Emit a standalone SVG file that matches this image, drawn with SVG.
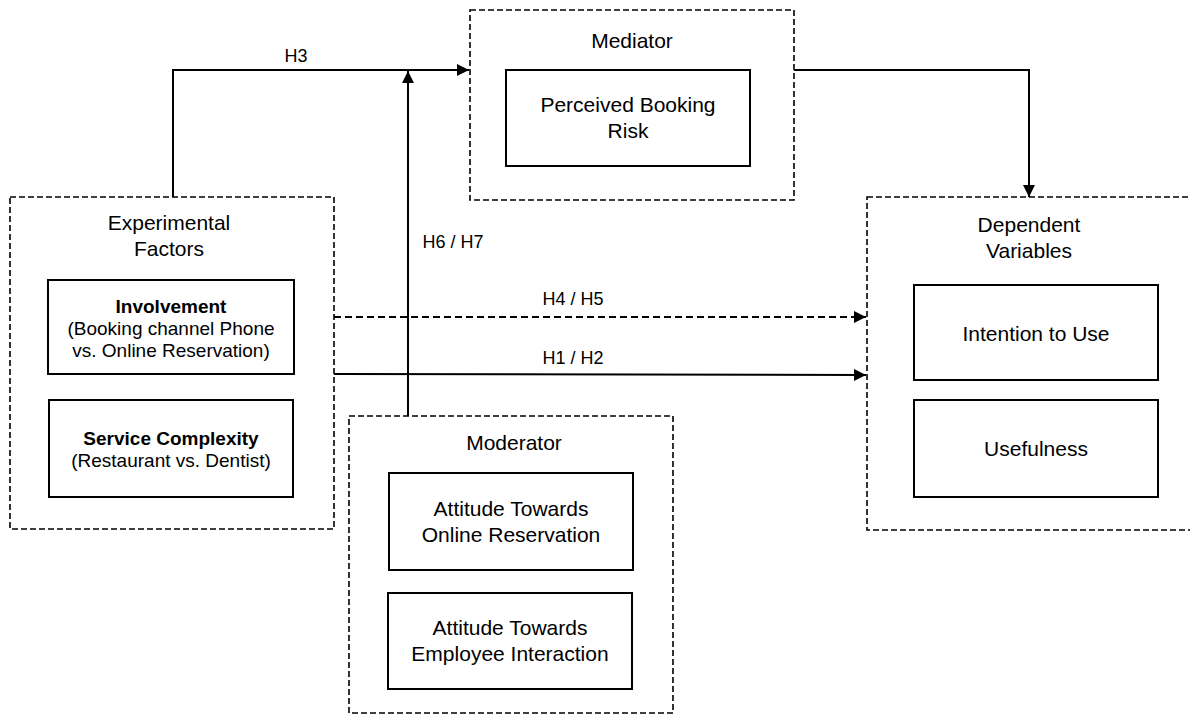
<svg xmlns="http://www.w3.org/2000/svg" width="1190" height="715" viewBox="0 0 1190 715">
  <style>
    text { font-family: "Liberation Sans", Arial, sans-serif; fill: #000; text-anchor: middle; }
    .title { font-size: 21px; }
    .main { font-size: 21px; }
    .sub { font-size: 19px; }
    .bold { font-size: 19px; font-weight: bold; }
    .lbl { font-size: 18px; }
    .group { fill: none; stroke: #000; stroke-width: 1.6; stroke-dasharray: 6 3; }
    .box { fill: #fff; stroke: #000; stroke-width: 2; }
    .edge { fill: none; stroke: #000; stroke-width: 2; }
    .dashed { stroke-dasharray: 7 4; }
  </style>
  <defs>
    <marker id="arrow" markerUnits="userSpaceOnUse" markerWidth="14" markerHeight="12" refX="12" refY="6" orient="auto">
      <path d="M0,0 L12,6 L0,12 z" fill="#000"/>
    </marker>
  </defs>

  <rect width="1190" height="715" fill="#fff"/>

  <!-- connectors -->
  <g id="connectors">
    <polyline class="edge" points="173,197 173,70 469,70" marker-end="url(#arrow)"/>
    <polyline class="edge" points="794,70 1029,70 1029,197" marker-end="url(#arrow)"/>
    <line class="edge" x1="408" y1="416" x2="408" y2="71" marker-end="url(#arrow)"/>
    <line class="edge dashed" x1="334" y1="317" x2="866" y2="317" marker-end="url(#arrow)"/>
    <line class="edge" x1="334" y1="374" x2="866" y2="375" marker-end="url(#arrow)"/>
    <text class="lbl" x="296" y="62">H3</text>
    <text class="lbl" x="453" y="248">H6 / H7</text>
    <text class="lbl" x="573" y="305">H4 / H5</text>
    <text class="lbl" x="573" y="364">H1 / H2</text>
  </g>

  <!-- experimental factors -->
  <g id="experimental-factors">
    <rect class="group" x="10" y="197" width="324" height="332"/>
    <text class="title" x="169" y="230">Experimental</text>
    <text class="title" x="169" y="256">Factors</text>
    <g id="involvement">
      <rect class="box" x="48" y="280" width="246" height="94"/>
      <text class="bold" x="171" y="313">Involvement</text>
      <text class="sub" x="171" y="335">(Booking channel Phone</text>
      <text class="sub" x="171" y="357">vs. Online Reservation)</text>
    </g>
    <g id="service-complexity">
      <rect class="box" x="49" y="400" width="244" height="97"/>
      <text class="bold" x="171" y="445">Service Complexity</text>
      <text class="sub" x="171" y="467">(Restaurant vs. Dentist)</text>
    </g>
  </g>

  <!-- mediator -->
  <g id="mediator">
    <rect class="group" x="470" y="10" width="324" height="190"/>
    <text class="title" x="632" y="48">Mediator</text>
    <g id="perceived-booking-risk">
      <rect class="box" x="506" y="70" width="244" height="96"/>
      <text class="main" x="628" y="112">Perceived Booking</text>
      <text class="main" x="628" y="138">Risk</text>
    </g>
  </g>

  <!-- moderator -->
  <g id="moderator">
    <rect class="group" x="349" y="416" width="324" height="297"/>
    <text class="title" x="514" y="450">Moderator</text>
    <g id="attitude-online">
      <rect class="box" x="389" y="473" width="244" height="97"/>
      <text class="main" x="511" y="516">Attitude Towards</text>
      <text class="main" x="511" y="542">Online Reservation</text>
    </g>
    <g id="attitude-employee">
      <rect class="box" x="388" y="593" width="244" height="96"/>
      <text class="main" x="510" y="635">Attitude Towards</text>
      <text class="main" x="510" y="661">Employee Interaction</text>
    </g>
  </g>

  <!-- dependent variables -->
  <g id="dependent-variables">
    <rect class="group" x="867" y="197" width="330" height="333"/>
    <text class="title" x="1029" y="232">Dependent</text>
    <text class="title" x="1029" y="258">Variables</text>
    <g id="intention-to-use">
      <rect class="box" x="914" y="285" width="244" height="95"/>
      <text class="main" x="1036" y="341">Intention to Use</text>
    </g>
    <g id="usefulness">
      <rect class="box" x="914" y="400" width="244" height="97"/>
      <text class="main" x="1036" y="456">Usefulness</text>
    </g>
  </g>
</svg>
